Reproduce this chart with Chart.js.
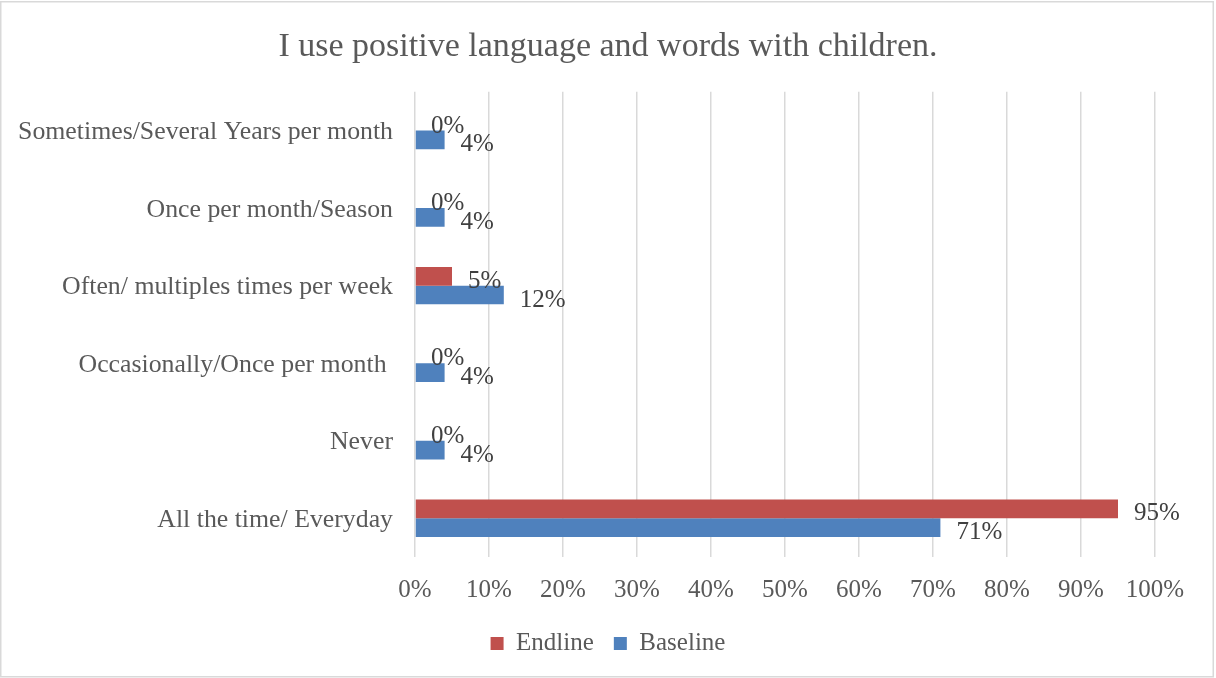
<!DOCTYPE html>
<html>
<head>
<meta charset="utf-8">
<script src="https://cdn.jsdelivr.net/npm/chart.js@4"></script>
<style>
  html, body { margin: 0; padding: 0; background: #fff; }
  #wrap { width: 1216px; height: 678px; }
</style>
</head>
<body>
<div id="wrap"><canvas id="chart" width="1216" height="678"></canvas></div>
<script>
const categories = [
  'Sometimes/Several Years per month',
  'Once per month/Season',
  'Often/ multiples times per week',
  'Occasionally/Once per month ',
  'Never',
  'All the time/ Everyday'
];
const endline = [0, 0, 5, 0, 0, 95];
const baseline = [4, 4, 12, 4, 4, 71];
const xTicks = [0, 10, 20, 30, 40, 50, 60, 70, 80, 90, 100];

const FONT = "'Liberation Serif', 'Times New Roman', serif";

// value labels to the right of each bar
const barLabels = {
  id: 'barLabels',
  afterDatasetsDraw(chart) {
    const ctx = chart.ctx;
    ctx.save();
    ctx.font = '25px ' + FONT;
    ctx.fillStyle = '#404040';
    ctx.textAlign = 'left';
    ctx.textBaseline = 'middle';
    chart.data.datasets.forEach((ds, i) => {
      chart.getDatasetMeta(i).data.forEach((bar, j) => {
        ctx.fillText(ds.data[j] + '%', bar.x + 16, bar.y + 5);
      });
    });
    ctx.restore();
  }
};

// thin frame around the whole chart
const frame = {
  id: 'frame',
  beforeDraw(chart) {
    const ctx = chart.ctx;
    ctx.save();
    ctx.fillStyle = '#fff';
    ctx.fillRect(0, 0, chart.width, chart.height);
    ctx.strokeStyle = '#d9d9d9';
    ctx.lineWidth = 1.5;
    ctx.strokeRect(0.75, 1.75, 1212.5, 675);
    ctx.restore();
  }
};

new Chart(document.getElementById('chart'), {
  type: 'bar',
  data: {
    labels: categories,
    datasets: [
      { label: 'Endline', data: endline, backgroundColor: '#C0504D' },
      { label: 'Baseline', data: baseline, backgroundColor: '#4F81BD' }
    ]
  },
  options: {
    indexAxis: 'y',
    responsive: false,
    animation: false,
    devicePixelRatio: 1,
    barPercentage: 1,
    categoryPercentage: 0.483,
    layout: { padding: { left: 0, right: 0, top: 0, bottom: 12 } },
    scales: {
      x: {
        min: 0,
        max: 100,
        afterBuildTicks(scale) { scale.ticks = xTicks.map(v => ({ value: v })); },
        afterFit(scale) { scale.height -= 12; },
        ticks: {
          callback: v => v + '%',
          color: '#595959',
          font: { family: FONT, size: 25 },
          padding: 18,
          maxRotation: 0
        },
        grid: { color: '#d9d9d9', lineWidth: 1.5, drawTicks: false },
        border: { display: false }
      },
      y: {
        afterFit(scale) { scale.width = 415; },
        ticks: {
          color: '#595959',
          font: { family: FONT, size: 25.8 },
          padding: 22,
          labelOffset: 2
        },
        grid: { display: false, drawTicks: false },
        border: { display: false }
      },
      // empty right-hand gutter so title and legend stay centred on the canvas
      yRight: {
        type: 'category',
        position: 'right',
        afterFit(scale) { scale.width = 61; },
        ticks: { display: false },
        grid: { display: false, drawTicks: false },
        border: { display: false }
      }
    },
    plugins: {
      title: {
        display: true,
        text: 'I use positive language and words with children.',
        color: '#595959',
        font: { family: FONT, size: 34, weight: 'normal' },
        padding: { top: 27, bottom: 24 }
      },
      legend: {
        position: 'bottom',
        labels: {
          color: '#595959',
          font: { family: FONT, size: 25 },
          boxWidth: 13,
          boxHeight: 13,
          padding: 20
        }
      },
      tooltip: { enabled: false }
    }
  },
  plugins: [frame, barLabels]
});
</script>
</body>
</html>
